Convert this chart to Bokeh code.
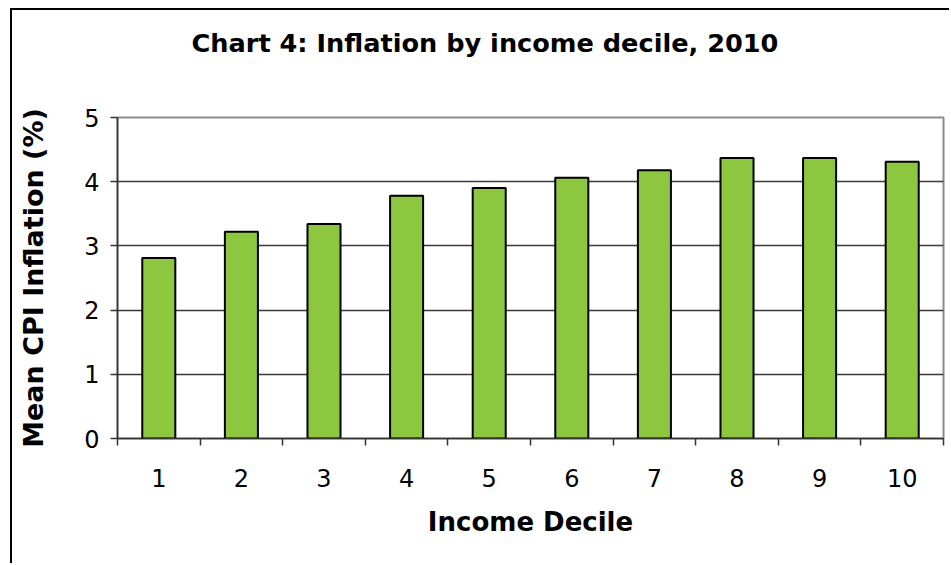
from bokeh.plotting import figure
from bokeh.models import Range1d, FixedTicker, Title
from bokeh.embed import file_html
from bokeh.resources import INLINE

deciles = [1, 2, 3, 4, 5, 6, 7, 8, 9, 10]
inflation = [2.81, 3.22, 3.34, 3.78, 3.90, 4.06, 4.18, 4.37, 4.37, 4.31]
y_ticks = [0, 1, 2, 3, 4, 5]
boundaries = [0.5, 1.5, 2.5, 3.5, 4.5, 5.5, 6.5, 7.5, 8.5, 9.5, 10.5]
title_text = "Chart 4: Inflation by income decile, 2010"

FONT = "DejaVu Sans"

# the chart sits inside a black frame whose left/top edges are visible
p = figure(width=939, height=555, output_backend="svg", toolbar_location=None,
           x_range=Range1d(0.5, 10.5), y_range=Range1d(0, 5),
           min_border_left=105, min_border_right=8, min_border_top=107, min_border_bottom=127,
           background_fill_color="white", border_fill_color="white")
p.styles = {"margin-left": "10px", "margin-top": "8px",
            "border-left": "2px solid black", "border-top": "2px solid black"}

p.title = Title(text=title_text, align="left", offset=74,
                text_font=FONT, text_font_size="25.6px", text_font_style="bold",
                text_color="black", standoff=10)
# blank spacer between title and plot area
p.add_layout(Title(text=" ", text_font_size="10px", standoff=42), "above")

p.vbar(x=deciles, top=inflation, width=0.4, bottom=0,
       fill_color="#8DC63F", line_color="black", line_width=2)

p.outline_line_color = "#8c8c8c"
p.outline_line_width = 2

# grid
p.xgrid.visible = False
p.ygrid.ticker = FixedTicker(ticks=y_ticks)
p.ygrid.grid_line_color = "#3a3a3a"
p.ygrid.grid_line_width = 1.5

# x axis
xa = p.xaxis[0]
xa.ticker = FixedTicker(ticks=deciles, minor_ticks=boundaries)
xa.major_tick_out = 0
xa.major_tick_in = 0
xa.minor_tick_out = 7
xa.minor_tick_in = 0
xa.minor_tick_line_color = "#333333"
xa.minor_tick_line_width = 1.5
xa.axis_line_color = "#333333"
xa.axis_line_width = 1.5
xa.major_label_text_font = FONT
xa.major_label_text_font_size = "24px"
xa.major_label_text_color = "black"
xa.major_label_standoff = 23
xa.axis_label = "Income Decile"
xa.axis_label_text_font = FONT
xa.axis_label_text_font_size = "26px"
xa.axis_label_text_font_style = "bold"
xa.axis_label_text_color = "black"
xa.axis_label_standoff = 17

# y axis
ya = p.yaxis[0]
ya.ticker = FixedTicker(ticks=y_ticks)
ya.major_tick_out = 7
ya.major_tick_in = 0
ya.major_tick_line_color = "#333333"
ya.major_tick_line_width = 1.5
ya.minor_tick_line_color = None
ya.axis_line_color = "#333333"
ya.axis_line_width = 1.5
ya.major_label_text_font = FONT
ya.major_label_text_font_size = "24px"
ya.major_label_text_color = "black"
ya.major_label_standoff = 11
ya.axis_label = "Mean CPI Inflation (%)"
ya.axis_label_text_font = FONT
ya.axis_label_text_font_size = "27px"
ya.axis_label_text_font_style = "bold"
ya.axis_label_text_color = "black"
ya.axis_label_standoff = 32

open("out.html", "w").write(file_html(p, INLINE))
